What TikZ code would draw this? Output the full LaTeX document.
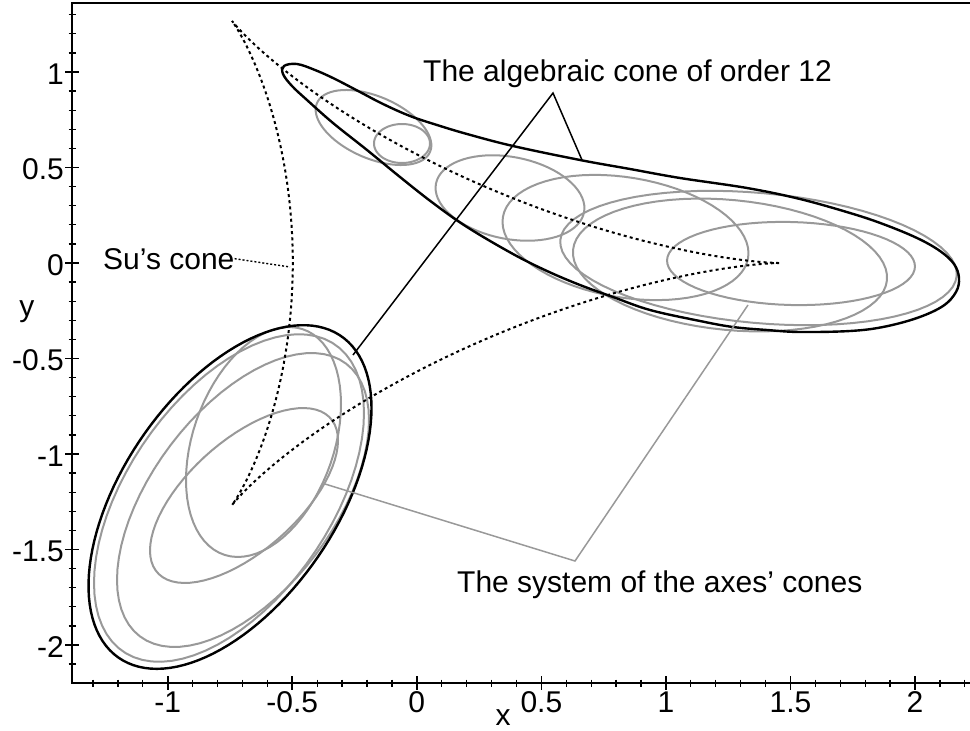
\documentclass[tikz,border=0pt]{standalone}
\usepackage{fontspec}
\setmainfont{Liberation Sans}
\definecolor{conegray}{gray}{0.6}
\newcommand\axell[5]{\draw[axcone] plot[domain=0:360,samples=73,variable=\t]
  ({#1+#3*cos(\t)*cos(#5)-#4*sin(\t)*sin(#5)},{#2+#3*cos(\t)*sin(#5)+#4*sin(\t)*cos(#5)}) -- cycle;}
\newcommand\axshear[5]{\draw[axcone] plot[domain=0:360,samples=73,variable=\t]
  ({#1+#3*cos(\t)},{#2+#4*cos(\t)+#5*sin(\t)}) -- cycle;}
\begin{document}
\begin{tikzpicture}[x=1pt,y=-1pt,
  axis/.style={line width=2pt,line join=miter},
  tickmaj/.style={line width=1.6pt},
  tickmin/.style={line width=1.3pt},
  envl/.style={line width=2.4pt,black,line join=round},
  axcone/.style={line width=2pt,conegray,line join=round},
  sucone/.style={line width=2pt,dash pattern=on 3pt off 3.2pt},
  leadb/.style={line width=1.5pt,black},
  leadg/.style={line width=1.5pt,conegray},
  leads/.style={line width=1.4pt,dash pattern=on 2pt off 2pt},
  lbl/.style={font=\fontsize{30}{36}\selectfont,inner sep=0pt},
]
\useasboundingbox (0,0) rectangle (970,731);

% system of the axes' cones (gray)
\axell{373.5}{127.5}{61.6}{31}{23.4}
\axell{402}{143.5}{28}{19.5}{0}
\axell{510}{198}{75.4}{41}{11}
\axell{625.5}{237.5}{124.3}{60}{9.5}
\axell{730}{265}{157.7}{65}{5.5}
\axell{791}{263.5}{124}{41.5}{1.5}
\axell{758.5}{258}{199}{65}{5.2}
\axshear{263.5}{442}{77.5}{-38}{108.5}
\axshear{244}{495.5}{94}{-55}{68}
\axshear{243}{500}{126}{-80}{123.3}
\axshear{229}{498}{135}{-85}{140}

% algebraic cone of order 12 (black)
\draw[envl] plot[smooth cycle,tension=0.6] coordinates {
 (284,66) (297,64) (315,70) (335,79) (360,92) (383,104) (410,116) (437,125)
 (467,134) (513,146) (580,160) (630,169) (680,178) (747,188) (800,199)
 (850,213) (883,224) (917,238) (940,251) (954,264) (959,278) (956,292)
 (943,306) (917,318) (883,327) (850,331) (800,332) (767,330) (733,327)
 (700,321) (650,310) (613,297) (580,285) (547,271) (513,254) (467,227)
 (433,203) (400,177) (367,150) (333,123) (307,100) (292,86) (283,74)};
\draw[envl] plot[domain=0:360,samples=120,variable=\t]
  ({230+141.5*cos(\t)},{497-89*cos(\t)+147*sin(\t)}) -- cycle;

% Su's cone (deltoid)
\draw[sucone] plot[domain=0:360,samples=240,variable=\t]
  ({414.3+243.1*cos(\t)+121.6*cos(2*\t)},{263-186.4*sin(\t)+93.2*sin(2*\t)});

% axes
\draw[axis] (970,3) -- (72,3) -- (72,683) -- (970,683);
\foreach \i in {-13,...,22}
  \draw[tickmin] ({416.8+24.91*\i},679.5) -- ({416.8+24.91*\i},686.5);
\foreach \v [count=\k] in {-1,-0.5,0,0.5,1,1.5,2}{
  \draw[tickmaj] ({416.8+249.1*\v},676) -- ({416.8+249.1*\v},690);
  \node[lbl,anchor=base] (xt\k) at ({416.8+249.1*\v},712) {\v};
}
\foreach \i in {-21,...,13}
  \draw[tickmin] (68.5,{263-19.1*\i}) -- (75.5,{263-19.1*\i});
\foreach \v [count=\k] in {1,0.5,0,-0.5,-1,-1.5,-2}{
  \draw[tickmaj] (65,{263-191*\v}) -- (79,{263-191*\v});
  \node[lbl,anchor=east] (yt\k) at (64,{263-191*\v+2}) {\v};
}
\node[lbl,anchor=base] (xlab) at (503,725) {x};
\node[lbl,anchor=base] (ylab) at (27,316) {y};

% labels and leaders
\node[lbl,anchor=base west] (alg) at (423,81) {The algebraic cone of order 12};
\coordinate (algtip) at (553,93);
\coordinate (algA) at (582,160);
\coordinate (algB) at (353,355);
\draw[leadb] (algA) -- (algtip) -- (algB);

\node[lbl,anchor=base west] (sys) at (457,592) {The system of the axes’ cones};
\coordinate (systip) at (575,561);
\coordinate (sysA) at (325,484);
\coordinate (sysB) at (748,305);
\draw[leadg] (sysA) -- (systip) -- (sysB);

\node[lbl,anchor=base west] (su) at (103,269) {Su’s cone};
\coordinate (suend) at (290,267);
\draw[leads] (su.east) -- (suend);
\end{tikzpicture}
\end{document}
